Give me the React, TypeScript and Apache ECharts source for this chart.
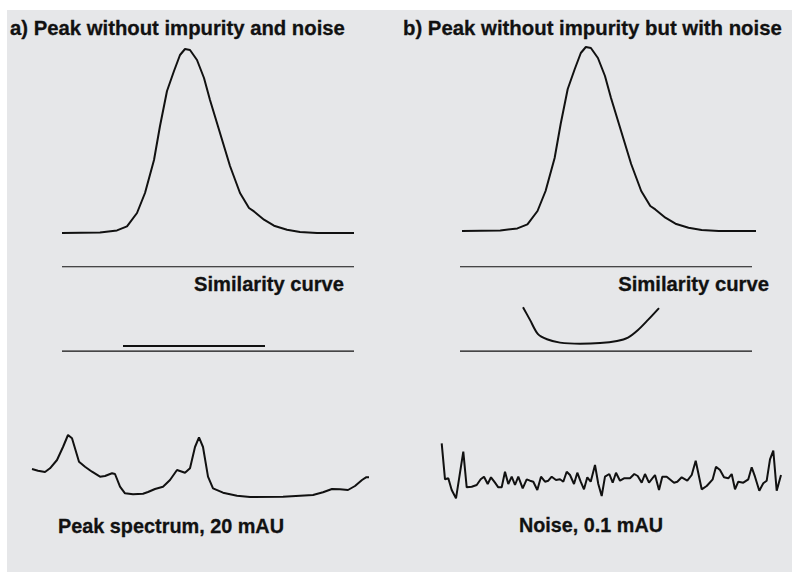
import React, { useEffect, useRef } from "react";
import * as echarts from "echarts";

// Chromatographic peak (same peak shown in both panels): [time, signal]
const peakSignal: number[][] = [
  [0, 0], [38, 0.6], [55, 2.6], [65, 6.6], [75, 20], [83, 40], [92, 73], [98, 107],
  [105, 142], [112, 162], [118, 178], [123, 184], [128, 183], [135, 173], [142, 155],
  [148, 133], [158, 100], [168, 67], [178, 40], [187, 25], [192, 21.6], [202, 13.3],
  [212, 7.3], [225, 3.3], [238, 1], [255, 0], [292, 0],
];

// Similarity curves [time, similarity]; limit lines at 0 and 100
const similarityFlat: number[][] = [[61, 6], [203, 6]];
const similarityNoise: number[][] = [
  [63, 52], [70, 37], [78, 20], [87, 14], [100, 10], [120, 8.7], [140, 9.5],
  [157, 12], [168, 16], [178, 25], [188, 37], [199, 51],
];
const limitUpper: number[][] = [[0, 100], [292, 100]];
const limitLower: number[][] = [[0, 0], [292, 0]];

// Peak spectrum (20 mAU): [wavelength step, absorbance]
const peakSpectrum: number[][] = [
  [0, 31], [6, 29.3], [13, 28], [18, 31.7], [25, 40], [31, 53], [36, 65], [40, 61.7],
  [47, 38.3], [53, 33.3], [60, 28.3], [68, 23.3], [73, 24], [80, 26.7], [83, 26],
  [88, 13.3], [93, 6.7], [101, 5.7], [111, 6.3], [116, 8], [123, 11], [131, 13.3],
  [138, 20], [145, 30], [153, 27.3], [158, 31.7], [163, 53], [167, 62.7], [171, 53],
  [176, 23.3], [181, 11.7], [191, 7.3], [205, 4.3], [218, 3], [251, 3.3], [281, 5],
  [291, 7.7], [300, 11], [308, 10.7], [316, 10], [323, 14], [330, 20], [334, 22.7],
  [337, 22.7],
];

// Noise (0.1 mAU): [wavelength step, absorbance]
const noiseSpectrum: number[][] = [
  [0.7, 56.7], [4, 20.7], [7.3, 21.7], [10.7, 10], [15, 1.7], [22.3, 48.3], [25.7, 12.7],
  [30.7, 13.3], [35.7, 15], [39.7, 20.7], [43, 23.3], [46.7, 16], [50, 22.7], [54, 17.3],
  [57.3, 12.7], [60.7, 12.7], [64, 28.3], [67.3, 16], [70.7, 23.3], [74, 15], [77.3, 23.3],
  [81.7, 11.7], [85.7, 20.7], [89, 19.3], [92.3, 18.3], [96.3, 10], [100, 23.3], [104, 18.3],
  [107.3, 19.3], [110.7, 23.3], [115, 20], [119, 20.7], [122.3, 18.3], [125.7, 28.3],
  [129, 25], [133, 16], [136.3, 27.3], [139.7, 18.3], [143, 10.7], [146.3, 22.7],
  [149.7, 18.3], [154, 35], [157.3, 16], [160.7, 4], [164, 23.3], [168.3, 26], [171.7, 17.3],
  [175, 27.3], [179, 19.3], [183, 21.7], [189, 21.7], [193.3, 26], [196.7, 24], [200.7, 17.3],
  [204, 26], [208, 17.3], [214, 25], [218, 10], [221.3, 23.3], [225.7, 23.3], [233, 17.3],
  [236.3, 18.3], [240.7, 22.7], [246.3, 19.3], [250.7, 25], [254.7, 39.3], [260.7, 10.7],
  [265.7, 14], [271.7, 20.7], [275, 33.3], [279, 30], [283, 22.7], [287.3, 21.7], [290.7, 26],
  [294, 10.7], [297.3, 18.3], [302.3, 17.3], [307.3, 20.7], [310.7, 32.7], [314, 23.3],
  [318.3, 9.3], [322.3, 16.7], [325.7, 19.3], [329, 40.7], [332.3, 49.3], [335.7, 9.3],
  [340, 25],
];

const panelTitles = ["a) Peak without impurity and noise", "b) Peak without impurity but with noise"];
const similarityLabel = "Similarity curve";
const spectrumLabels = ["Peak spectrum, 20 mAU", "Noise, 0.1 mAU"];

const FONT_CSS = "bold 21px 'Liberation Sans', Arial, sans-serif";
const INK = "#111111";

function measure(text: string): number {
  const c = document.createElement("canvas").getContext("2d");
  if (!c) return text.length * 10;
  c.font = FONT_CSS;
  return c.measureText(text).width;
}

export default function App() {
  const ref = useRef<HTMLDivElement>(null);
  useEffect(() => {
    if (!ref.current) return;
    const chart = echarts.init(ref.current, undefined, { renderer: "svg" });
    const grids = [
      { left: 62, top: 43, width: 292, height: 190 }, // peak a
      { left: 462, top: 41, width: 294, height: 190 }, // peak b
      { left: 62, top: 258.3, width: 292, height: 101.2 }, // similarity a
      { left: 460, top: 258.3, width: 292, height: 101.2 }, // similarity b
      { left: 32, top: 430, width: 338, height: 70 }, // spectrum a
      { left: 441, top: 440, width: 341, height: 60 }, // noise b
    ];
    const xr = [[0, 292], [0, 292], [0, 292], [0, 292], [0, 338], [0, 341]];
    const yr = [[0, 190], [0, 190], [-10, 110], [-10, 110], [0, 70], [0, 60]];
    const line = (gi: number, data: number[][], width = 2) => ({
      type: "line",
      xAxisIndex: gi,
      yAxisIndex: gi,
      data,
      symbol: "none",
      silent: true,
      clip: false,
      lineStyle: { color: INK, width },
    });
    // condensed look: squeeze text horizontally to the width it spans in the reference
    const txt = (text: string, x: number, y: number, align: string, spanWidth: number) => ({
      type: "text",
      x,
      y,
      scaleX: Math.min(1, spanWidth / measure(text)),
      silent: true,
      style: {
        text,
        fill: INK,
        stroke: INK,
        lineWidth: 0.3,
        font: FONT_CSS,
        align,
        verticalAlign: "middle",
      },
    });
    chart.setOption({
      animation: false,
      backgroundColor: "#ffffff",
      grid: grids.map((g) => ({ ...g, containLabel: false })),
      xAxis: xr.map((r, i) => ({ type: "value", gridIndex: i, min: r[0], max: r[1], show: false })),
      yAxis: yr.map((r, i) => ({ type: "value", gridIndex: i, min: r[0], max: r[1], show: false })),
      series: [
        line(0, peakSignal),
        line(1, peakSignal),
        line(2, limitUpper, 1.2),
        line(2, limitLower, 1.2),
        line(2, similarityFlat, 2),
        line(3, limitUpper, 1.2),
        line(3, limitLower, 1.2),
        { ...line(3, similarityNoise, 2), smooth: 0.3 },
        line(4, peakSpectrum),
        line(5, noiseSpectrum),
      ],
      graphic: [
        {
          type: "rect",
          z: -10,
          silent: true,
          shape: { x: 7, y: 10, width: 785, height: 562 },
          style: { fill: "#e6e7e9" },
        },
        txt(panelTitles[0], 10, 27, "left", 335),
        txt(panelTitles[1], 403, 27, "left", 379),
        txt(similarityLabel, 344, 283.5, "right", 150),
        txt(similarityLabel, 769, 283.5, "right", 151),
        txt(spectrumLabels[0], 58, 526, "left", 226),
        txt(spectrumLabels[1], 519, 525, "left", 144),
      ],
    });
    return () => chart.dispose();
  }, []);
  return (
    <div
      ref={ref}
      style={{ position: "fixed", left: 0, top: 0, width: 792, height: 573, background: "#ffffff" }}
    />
  );
}
